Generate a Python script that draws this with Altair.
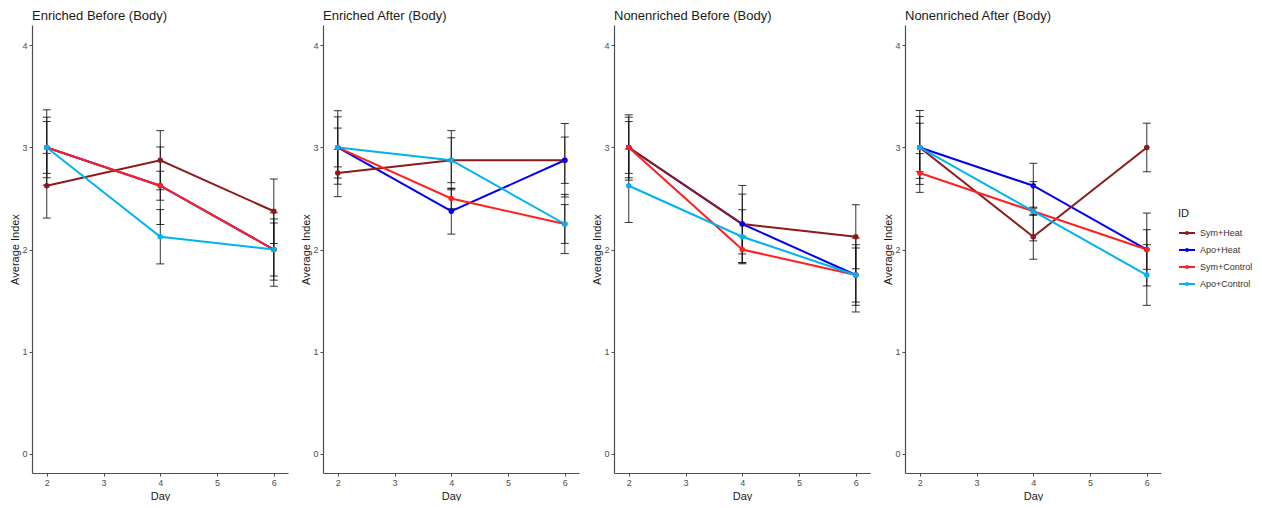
import altair as alt
import pandas as pd

# ---------------- data ----------------
days = [2, 4, 6]
ids = ["Sym+Heat", "Apo+Heat", "Sym+Control", "Apo+Control"]
colors = ["#8B1A1A", "#0000EE", "#FF2020", "#00B2EE"]
line_order = ["Apo+Heat", "Sym+Heat", "Sym+Control", "Apo+Control"]
panel_titles = [
    "Enriched Before (Body)",
    "Enriched After (Body)",
    "Nonenriched Before (Body)",
    "Nonenriched After (Body)",
]

mean_enriched_before = {
    "Sym+Heat": [2.625, 2.875, 2.375],
    "Apo+Heat": [3.0, 2.625, 2.0],
    "Sym+Control": [3.0, 2.625, 2.0],
    "Apo+Control": [3.0, 2.125, 2.0],
}
se_enriched_before = {
    "Sym+Heat": [0.317, 0.29, 0.316],
    "Apo+Heat": [0.369, 0.38, 0.36],
    "Sym+Control": [0.297, 0.142, 0.30],
    "Apo+Control": [0.254, 0.266, 0.26],
}

mean_enriched_after = {
    "Sym+Heat": [2.75, 2.875, 2.875],
    "Apo+Heat": [3.0, 2.375, 2.875],
    "Sym+Control": [3.0, 2.5, 2.25],
    "Apo+Control": [3.0, 2.875, 2.25],
}
se_enriched_after = {
    "Sym+Heat": [0.232, 0.29, 0.227],
    "Apo+Heat": [0.36, 0.224, 0.36],
    "Sym+Control": [0.30, 0.10, 0.19],
    "Apo+Control": [0.19, 0.22, 0.29],
}

mean_nonenriched_before = {
    "Sym+Heat": [3.0, 2.25, 2.125],
    "Apo+Heat": [3.0, 2.25, 1.75],
    "Sym+Control": [3.0, 2.0, 1.75],
    "Apo+Control": [2.625, 2.125, 1.75],
}
se_nonenriched_before = {
    "Sym+Heat": [0.32, 0.378, 0.314],
    "Apo+Heat": [0.297, 0.293, 0.297],
    "Sym+Control": [0.254, 0.13, 0.265],
    "Apo+Control": [0.36, 0.265, 0.362],
}

mean_nonenriched_after = {
    "Sym+Heat": [3.0, 2.125, 3.0],
    "Apo+Heat": [3.0, 2.625, 2.0],
    "Sym+Control": [2.75, 2.375, 2.0],
    "Apo+Control": [3.0, 2.375, 1.75],
}
se_nonenriched_after = {
    "Sym+Heat": [0.362, 0.22, 0.238],
    "Apo+Heat": [0.303, 0.22, 0.357],
    "Sym+Control": [0.19, 0.04, 0.194],
    "Apo+Control": [0.238, 0.29, 0.297],
}

panel_means = [mean_enriched_before, mean_enriched_after, mean_nonenriched_before, mean_nonenriched_after]
panel_ses = [se_enriched_before, se_enriched_after, se_nonenriched_before, se_nonenriched_after]

FONT = "Liberation Sans"

x_scale = alt.Scale(domain=[1.74, 6.25], nice=False, zero=False)
y_scale = alt.Scale(domain=[-0.19, 4.2], nice=False, zero=False)
x_axis = alt.Axis(values=[2, 3, 4, 5, 6], title="Day", format="d", grid=False, titlePadding=3)
y_axis = alt.Axis(values=[0, 1, 2, 3, 4], title="Average Index", format="d", grid=False)

legend = alt.Legend(
    title="ID",
    orient="none",
    legendX=1146,
    legendY=183,
    symbolType="M-1,0H1M-0.12,0A0.12,0.12,0,1,1,0.12,0A0.12,0.12,0,1,1,-0.12,0Z",
    symbolSize=256,
    symbolStrokeWidth=2,
    labelFontSize=9,
    titleFontSize=11,
    titleFontWeight="normal",
    labelColor="#333333",
    titleColor="#1a1a1a",
    rowPadding=3,
    labelOffset=4,
    titlePadding=5,
)
color_enc = alt.Color("ID:N", scale=alt.Scale(domain=ids, range=colors), legend=legend)


def make_panel(title, means, ses):
    rows = []
    for k, name in enumerate(ids):
        for i, d in enumerate(days):
            m = means[name][i]
            s = ses[name][i]
            rows.append({
                "Day": d, "ID": name, "mean": m, "lo": m - s, "hi": m + s,
                "pord": k,
            })
    df = pd.DataFrame(rows)
    base = alt.Chart(df)
    xe = alt.X("Day:Q", scale=x_scale, axis=x_axis)

    rules = base.mark_rule(color="#111111", strokeWidth=1, opacity=0.85).encode(
        x=xe, y=alt.Y("lo:Q", scale=y_scale, axis=y_axis), y2="hi:Q"
    )
    cap_lo = base.mark_tick(orient="horizontal", size=8, thickness=1, color="#111111", opacity=0.85).encode(
        x=xe, y=alt.Y("lo:Q", scale=y_scale, axis=y_axis)
    )
    cap_hi = base.mark_tick(orient="horizontal", size=8, thickness=1, color="#111111", opacity=0.85).encode(
        x=xe, y=alt.Y("hi:Q", scale=y_scale, axis=y_axis)
    )
    lines = [
        base.transform_filter(alt.datum.ID == name)
        .mark_line(strokeWidth=2)
        .encode(x=xe, y=alt.Y("mean:Q", scale=y_scale, axis=y_axis), color=color_enc)
        for name in line_order
    ]
    points = base.mark_circle(size=30, opacity=1).encode(
        x=xe,
        y=alt.Y("mean:Q", scale=y_scale, axis=y_axis),
        color=color_enc,
        order=alt.Order("pord:Q"),
    )
    return alt.layer(rules, cap_lo, cap_hi, *lines, points).properties(
        width=256,
        height=448,
        title=alt.TitleParams(
            title, anchor="start", frame="group", fontSize=13, fontWeight="normal",
            color="#1a1a1a", font=FONT, offset=2,
        ),
    )


panels = [make_panel(t, m, s) for t, m, s in zip(panel_titles, panel_means, panel_ses)]

chart = (
    alt.hconcat(*panels, spacing=12)
    .properties(padding={"left": 1, "top": 2, "right": 0, "bottom": 0}, background="white")
    .configure_view(stroke=None)
    .configure_axis(
        domainColor="#4d4d4d",
        domainWidth=1.2,
        tickColor="#4d4d4d",
        tickSize=3,
        labelColor="#4d4d4d",
        labelFontSize=9,
        labelFont=FONT,
        labelPadding=2,
        titleFont=FONT,
        titleFontSize=11,
        titleFontWeight="normal",
        titleColor="#1a1a1a",
        titlePadding=1,
    )
    .configure_legend(labelFont=FONT, titleFont=FONT)
)

chart.save("out.html", embed_options={"renderer": "svg", "actions": False})
